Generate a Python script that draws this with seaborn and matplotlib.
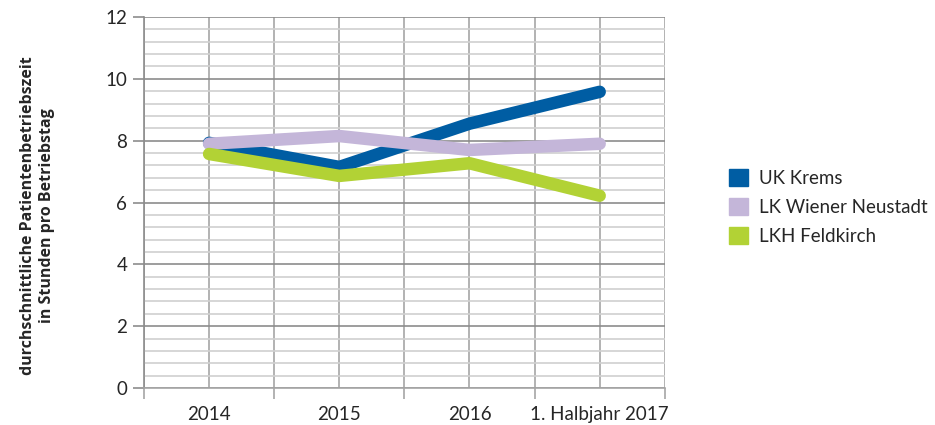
import pandas as pd
import matplotlib.pyplot as plt
import matplotlib.ticker as mticker
from matplotlib.patches import Patch
import seaborn as sns

sns.set_style('white')
plt.rcParams['font.family'] = ['Lato', 'DejaVu Sans']

# Data
jahre = ['2014', '2015', '2016', '1. Halbjahr 2017']
uk_krems = [7.93, 7.15, 8.55, 9.58]
lk_wiener_neustadt = [7.9, 8.15, 7.7, 7.9]
lkh_feldkirch = [7.57, 6.86, 7.27, 6.22]

spitaeler = ['UK Krems', 'LK Wiener Neustadt', 'LKH Feldkirch']
farben = ['#005DA3', '#C4B6D9', '#B2D235']

df = pd.DataFrame({
    'Jahr': jahre * 3,
    'Wert': uk_krems + lk_wiener_neustadt + lkh_feldkirch,
    'Spital': [s for s in spitaeler for _ in jahre],
})

# Plot
fig = plt.figure(figsize=(9.35, 4.25), dpi=100)
ax = fig.add_axes([0.154, 0.087, 0.557, 0.873])

sns.lineplot(data=df, x='Jahr', y='Wert', hue='Spital', palette=farben,
             linewidth=9, legend=False, ax=ax, sort=False,
             solid_capstyle='round', zorder=3)

ax.set_xlim(-0.5, 3.5)
ax.set_ylim(0, 12)

ax.yaxis.set_major_locator(mticker.MultipleLocator(2))
ax.yaxis.set_minor_locator(mticker.MultipleLocator(0.4))
ax.xaxis.set_major_locator(mticker.FixedLocator([0, 1, 2, 3]))
ax.xaxis.set_minor_locator(mticker.FixedLocator([-0.5, 0.5, 1.5, 2.5, 3.5]))
ax.set_xticklabels(jahre)

ax.grid(which='major', axis='y', color='#8c8c8c', linewidth=1.2)
ax.grid(which='minor', axis='y', color='#d0d0d0', linewidth=1.2)
ax.grid(which='both', axis='x', color='#a6a6a6', linewidth=1.2)
ax.set_axisbelow(True)

for side in ['top', 'right']:
    ax.spines[side].set_visible(False)
ax.spines['left'].set_color('#8c8c8c')
ax.spines['bottom'].set_color('#a6a6a6')
ax.spines['left'].set_linewidth(1.2)
ax.spines['bottom'].set_linewidth(1.2)

ax.tick_params(axis='y', which='major', length=8, width=1.2, color='#8c8c8c',
               labelsize=13.5, pad=4, left=True)
ax.tick_params(axis='y', which='minor', length=0)
ax.tick_params(axis='x', which='major', length=0, labelsize=13.5, pad=13)
ax.tick_params(axis='x', which='minor', length=8, width=1.2, color='#a6a6a6',
               bottom=True)

ax.set_xlabel('')
ax.set_ylabel('durchschnittliche Patientenbetriebszeit\nin Stunden pro Betriebstag',
              fontsize=11.5, fontweight='bold', family=['Open Sans', 'DejaVu Sans'],
              labelpad=36, linespacing=1.3)
ax.yaxis.set_label_coords(-0.17, 0.465)

handles = [Patch(facecolor=c, edgecolor=c) for c in farben]
fig.legend(handles, spitaeler, loc='center left', bbox_to_anchor=(0.762, 0.513),
           frameon=False, fontsize=13.5, handlelength=1.0, handleheight=1.0,
           labelspacing=0.6, handletextpad=0.6)

plt.savefig('out.png', dpi=100)
